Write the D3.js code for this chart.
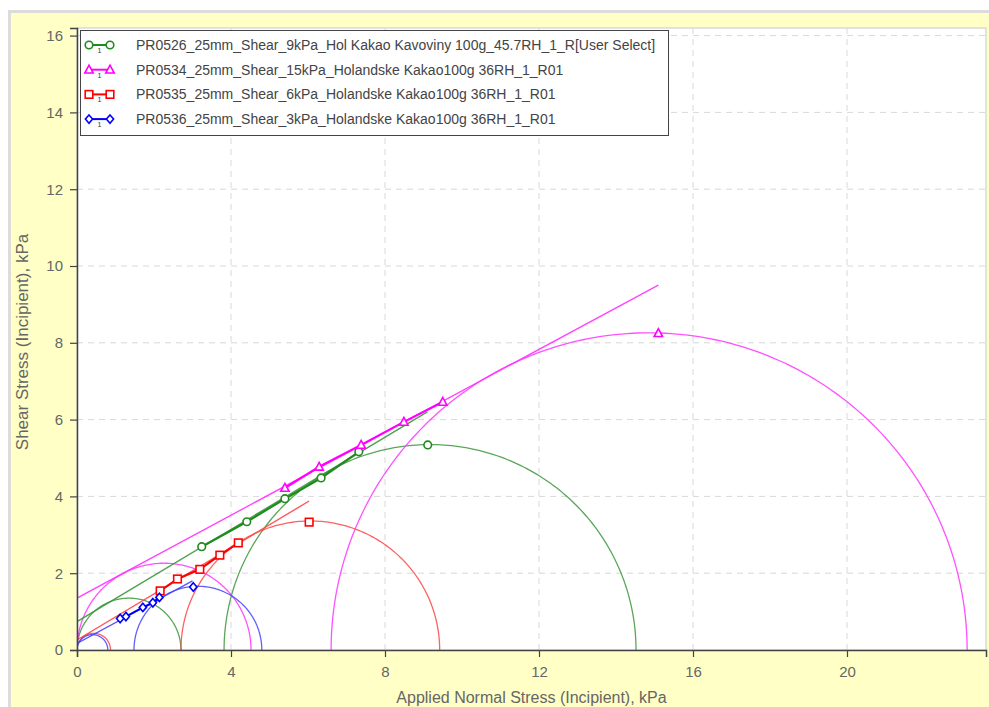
<!DOCTYPE html>
<html>
<head>
<meta charset="utf-8">
<script src="https://cdn.jsdelivr.net/npm/d3@7"></script>
<style>
  html, body { margin: 0; padding: 0; background: #ffffff; }
  svg { display: block; }
  text { font-family: "Liberation Sans", Arial, sans-serif; }
</style>
</head>
<body>
<svg id="chart" width="989" height="707"></svg>
<script>
// ---------------- DATA ----------------
const seriesNames = [
  "PR0526_25mm_Shear_9kPa_Hol Kakao Kavoviny 100g_45.7RH_1_R[User Select]",
  "PR0534_25mm_Shear_15kPa_Holandske Kakao100g 36RH_1_R01",
  "PR0535_25mm_Shear_6kPa_Holandske Kakao100g 36RH_1_R01",
  "PR0536_25mm_Shear_3kPa_Holandske Kakao100g 36RH_1_R01"
];
const seriesKeys = ["green", "magenta", "red", "blue"];

// Yield locus points (normal stress, shear stress), kPa
const greenX   = [3.24, 4.41, 5.40, 6.34, 7.32];
const greenY   = [2.69, 3.34, 3.94, 4.48, 5.16];
const magentaX = [5.40, 6.29, 7.38, 8.49, 9.50];
const magentaY = [4.22, 4.77, 5.34, 5.94, 6.46];
const redX     = [2.16, 2.61, 3.19, 3.71, 4.19];
const redY     = [1.54, 1.85, 2.10, 2.47, 2.79];
const blueX    = [1.12, 1.27, 1.71, 1.97, 2.14];
const blueY    = [0.82, 0.87, 1.11, 1.23, 1.37];

// Pre-shear (steady state) points
const steadyX = [9.11, 15.10, 6.03, 3.02];
const steadyY = [5.34, 8.25, 3.33, 1.64];

// Major consolidation Mohr circles: centre, radius
const bigCenter = [9.17, 14.86, 6.06, 3.14];
const bigRadius = [5.35, 8.26, 3.36, 1.66];
// Unconfined yield strength Mohr circles: centre, radius
const smallCenter = [1.35, 2.26, 0.435, 0.40];
const smallRadius = [1.35, 2.26, 0.435, 0.40];

// Fitted yield locus lines: start (x0,y0) to end (x1,y1)
const lineX0 = [0, 0, 0, 0];
const lineY0 = [0.74, 1.35, 0.26, 0.17];
const lineX1 = [9.10, 15.10, 6.03, 3.00];
const lineY1 = [6.20, 9.50, 3.88, 1.80];

const xTicks = [0, 4, 8, 12, 16, 20];
const yTicks = [0, 2, 4, 6, 8, 10, 12, 14, 16];
const xTitle = "Applied Normal Stress (Incipient), kPa";
const yTitle = "Shear Stress (Incipient), kPa";

// ---------------- STYLE ----------------
const colors = { green: "#1f8a1f", magenta: "#ff00ff", red: "#ff0000", blue: "#0000ff" };
const thinColors = { green: "#3c963c", magenta: "#ff33ff", red: "#ff4545", blue: "#4545ff" };
const markerTypes = { green: "circle", magenta: "triangle", red: "square", blue: "diamond" };

const W = 989, H = 707;
const plot = { left: 77, right: 986, top: 28, bottom: 650 };

const svg = d3.select("#chart");

// background
svg.append("rect").attr("x", 0).attr("y", 0).attr("width", W).attr("height", H).attr("fill", "#ffffff");
svg.append("rect").attr("x", 8).attr("y", 10).attr("width", W - 8).attr("height", H - 10).attr("fill", "#dcdcdc");
svg.append("rect").attr("x", 11).attr("y", 13).attr("width", W - 11).attr("height", H - 13).attr("fill", "#ffffc6");

const x = d3.scaleLinear().domain([0, 909 / 38.5]).range([plot.left, plot.right]);
const y = d3.scaleLinear().domain([0, 622 / 38.4]).range([plot.bottom, plot.top]);

// plot area
svg.append("rect")
  .attr("x", plot.left).attr("y", plot.top)
  .attr("width", plot.right - plot.left).attr("height", plot.bottom - plot.top)
  .attr("fill", "#ffffff").attr("stroke", "#c8c8c8").attr("stroke-width", 1);

// grid
const grid = svg.append("g");
grid.selectAll(".gx").data(xTicks.filter(d => d > 0)).join("line")
  .attr("x1", d => x(d)).attr("x2", d => x(d))
  .attr("y1", plot.top).attr("y2", plot.bottom)
  .attr("stroke", "#d8d8d8").attr("stroke-dasharray", "6,5").attr("stroke-width", 1);
grid.selectAll(".gy").data(yTicks.filter(d => d > 0)).join("line")
  .attr("x1", plot.left).attr("x2", plot.right)
  .attr("y1", d => y(d)).attr("y2", d => y(d))
  .attr("stroke", "#d8d8d8").attr("stroke-dasharray", "6,5").attr("stroke-width", 1);

// clip
svg.append("clipPath").attr("id", "clip").append("rect")
  .attr("x", plot.left).attr("y", plot.top)
  .attr("width", plot.right - plot.left).attr("height", plot.bottom - plot.top);

const g = svg.append("g").attr("clip-path", "url(#clip)");

// semicircle generator using the scales
const angles = d3.range(0, 181, 1).map(a => a * Math.PI / 180);
const lineGen = d3.line().x(d => x(d[0])).y(d => y(d[1]));
function semicircle(c, r) {
  return lineGen(angles.map(a => [c + r * Math.cos(a), r * Math.sin(a)]));
}

// Mohr circles
seriesKeys.forEach((k, i) => {
  g.append("path").attr("d", semicircle(bigCenter[i], bigRadius[i]))
    .attr("fill", "none").attr("stroke", thinColors[k]).attr("stroke-width", 1.3).attr("opacity", 0.85);
  g.append("path").attr("d", semicircle(smallCenter[i], smallRadius[i]))
    .attr("fill", "none").attr("stroke", thinColors[k]).attr("stroke-width", 1.3).attr("opacity", 0.85);
});

// yield locus fitted lines
seriesKeys.forEach((k, i) => {
  g.append("line")
    .attr("x1", x(lineX0[i])).attr("y1", y(lineY0[i]))
    .attr("x2", x(lineX1[i])).attr("y2", y(lineY1[i]))
    .attr("stroke", thinColors[k]).attr("stroke-width", 1.4).attr("opacity", 0.9);
});

// data polylines
const pts = {
  green: greenX.map((v, j) => [v, greenY[j]]),
  magenta: magentaX.map((v, j) => [v, magentaY[j]]),
  red: redX.map((v, j) => [v, redY[j]]),
  blue: blueX.map((v, j) => [v, blueY[j]])
};

seriesKeys.forEach(k => {
  g.append("path").attr("d", lineGen(pts[k]))
    .attr("fill", "none").attr("stroke", colors[k]).attr("stroke-width", 2.2);
});

// markers
function drawMarker(sel, type, cx, cy, color) {
  if (type === "circle") {
    sel.append("circle").attr("cx", cx).attr("cy", cy).attr("r", 3.8)
      .attr("fill", "#ffffff").attr("stroke", color).attr("stroke-width", 1.6);
  } else if (type === "square") {
    sel.append("rect").attr("x", cx - 3.8).attr("y", cy - 3.8).attr("width", 7.6).attr("height", 7.6)
      .attr("fill", "#ffffff").attr("stroke", color).attr("stroke-width", 1.6);
  } else if (type === "triangle") {
    sel.append("path").attr("d", `M${cx},${cy - 4.5}L${cx + 4.2},${cy + 3.3}L${cx - 4.2},${cy + 3.3}Z`)
      .attr("fill", "#ffffff").attr("stroke", color).attr("stroke-width", 1.6);
  } else {
    sel.append("path").attr("d", `M${cx},${cy - 4.2}L${cx + 3.6},${cy}L${cx},${cy + 4.2}L${cx - 3.6},${cy}Z`)
      .attr("fill", "#ffffff").attr("stroke", color).attr("stroke-width", 1.6);
  }
}

const mk = svg.append("g").attr("clip-path", "url(#clip)");
seriesKeys.forEach((k, i) => {
  pts[k].forEach(p => drawMarker(mk, markerTypes[k], x(p[0]), y(p[1]), colors[k]));
  drawMarker(mk, markerTypes[k], x(steadyX[i]), y(steadyY[i]), colors[k]);
});

// axes
const xAxis = svg.append("g").attr("transform", `translate(0,${plot.bottom})`)
  .call(d3.axisBottom(x).tickValues(xTicks).tickSize(7).tickPadding(9).tickFormat(d3.format("d")));
const yAxis = svg.append("g").attr("transform", `translate(${plot.left},0)`)
  .call(d3.axisLeft(y).tickValues(yTicks).tickSize(7).tickPadding(7).tickFormat(d3.format("d")));
[xAxis, yAxis].forEach(a => {
  a.select(".domain").attr("stroke", "#444").attr("stroke-width", 1.5);
  a.selectAll(".tick line").attr("stroke", "#444").attr("stroke-width", 1.2);
  a.selectAll(".tick text").attr("fill", "#666").attr("font-size", 15)
    .attr("font-family", "'Liberation Sans', Arial, sans-serif");
});

svg.append("text").attr("x", (plot.left + plot.right) / 2).attr("y", 703)
  .attr("text-anchor", "middle").attr("font-size", 16).attr("fill", "#666").text(xTitle);
svg.append("text").attr("transform", `translate(28,342) rotate(-90)`)
  .attr("text-anchor", "middle").attr("font-size", 17).attr("fill", "#666").text(yTitle);

// legend
const lg = svg.append("g");
lg.append("rect").attr("x", 80.5).attr("y", 30.5).attr("width", 588).attr("height", 105)
  .attr("fill", "#ffffff").attr("stroke", "#444").attr("stroke-width", 1);
seriesKeys.forEach((k, i) => {
  const ry = 45 + i * 24.7;
  lg.append("line").attr("x1", 88).attr("x2", 111).attr("y1", ry).attr("y2", ry)
    .attr("stroke", colors[k]).attr("stroke-width", 2);
  drawMarker(lg, markerTypes[k], 89, ry, colors[k]);
  drawMarker(lg, markerTypes[k], 110, ry, colors[k]);
  lg.append("text").attr("x", 99.5).attr("y", ry + 8).attr("text-anchor", "middle")
    .attr("font-size", 7).attr("fill", "#333").text("1");
  lg.append("text").attr("x", 136).attr("y", ry + 5).attr("font-size", 14)
    .attr("fill", "#444").text(seriesNames[i]);
});
</script>
</body>
</html>
